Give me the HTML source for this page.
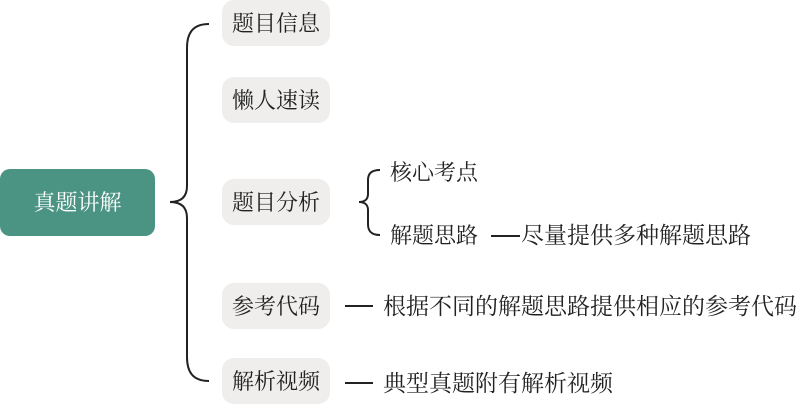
<!DOCTYPE html>
<html><head><meta charset="utf-8"><style>
body{margin:0;width:796px;height:405px;background:#fff;position:relative;overflow:hidden;font-family:"Liberation Serif","Noto Serif CJK SC",serif;color:#222}
.b{position:absolute;left:222px;width:108px;height:46px;background:#efeeec;border-radius:12px;font-size:22px;line-height:48px;text-align:center}
.t{position:absolute;font-size:22px;line-height:30px;white-space:nowrap}
.r{font-size:23px}
</style></head><body>
<div style="position:absolute;left:0;top:169px;width:155px;height:67px;background:#4b9483;border-radius:10px;color:#fff;font-size:22px;line-height:67px;text-align:center">真题讲解</div>
<svg width="796" height="405" style="position:absolute;left:0;top:0">
<path d="M209,24 C192,24 187,34 187,48 L187,186 C187,198 180,202 170,202 C180,202 187,206 187,218 L187,357 C187,371 192,381 209,381" fill="none" stroke="#222" stroke-width="2"/>
<path d="M380,170 C371,170 368,174 368,180 L368,194 C368,199 365,202 359,202 C365,202 368,205 368,210 L368,224 C368,231 371,235 380,235" fill="none" stroke="#222" stroke-width="2"/>
<line x1="345" y1="306" x2="373" y2="306" stroke="#222" stroke-width="2"/>
<line x1="345" y1="383" x2="373" y2="383" stroke="#222" stroke-width="2"/>
<line x1="491" y1="236" x2="520" y2="236" stroke="#222" stroke-width="2"/>
</svg>
<div class="b" style="top:0">题目信息</div>
<div class="b" style="top:77px">懒人速读</div>
<div class="b" style="top:179px">题目分析</div>
<div class="b" style="top:283px">参考代码</div>
<div class="b" style="top:358px">解析视频</div>
<div class="t" style="left:390px;top:158px">核心考点</div>
<div class="t" style="left:390px;top:221px">解题思路</div>
<div class="t r" style="left:521px;top:221px">尽量提供多种解题思路</div>
<div class="t r" style="left:383px;top:292px">根据不同的解题思路提供相应的参考代码</div>
<div class="t r" style="left:383px;top:369px">典型真题附有解析视频</div>
</body></html>
